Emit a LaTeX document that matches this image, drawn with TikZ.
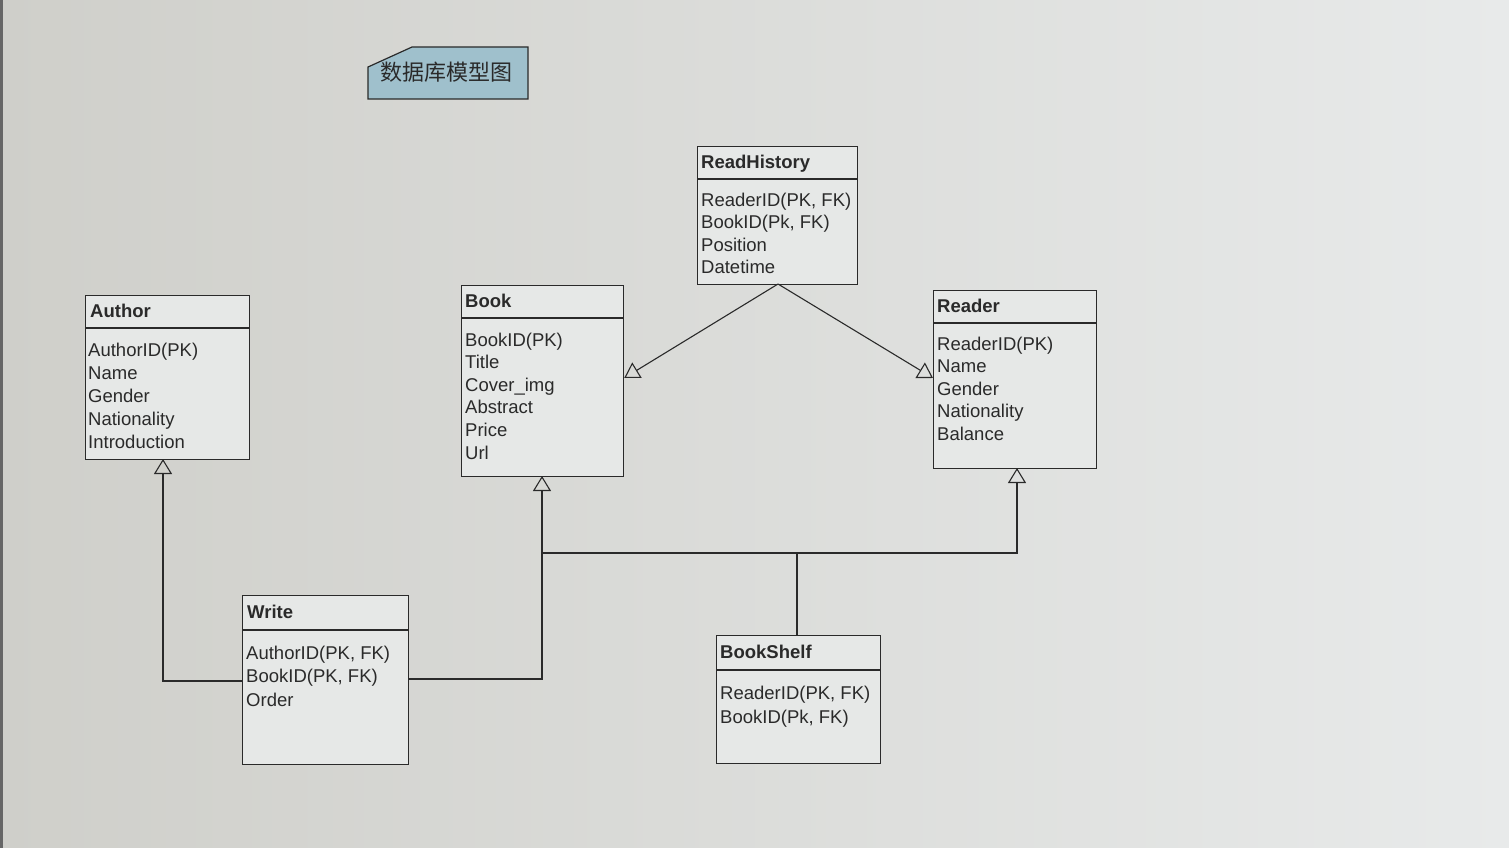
\documentclass[tikz,border=0pt]{standalone}
\usepackage{fontspec}
\setmainfont{Liberation Sans}
\newfontfamily\cjkfont{Noto Sans CJK SC}
\usetikzlibrary{arrows.meta}
\definecolor{bgA}{HTML}{CFCFCA}
\definecolor{bgB}{HTML}{E8EAEA}
\definecolor{boxfill}{HTML}{E6E8E7}
\definecolor{tagfill}{HTML}{9FC0CC}
\definecolor{ink}{HTML}{2A2A2A}
\tikzset{
  cls/.style={draw=ink, line width=1.2pt, fill=boxfill, anchor=north west, inner sep=0pt},
  hdr/.style={draw=ink, line width=1.2pt},
  ttl/.style={anchor=base west, inner sep=0pt, text=ink, font=\fontsize{18.5}{22}\selectfont\bfseries},
  attr/.style={anchor=base west, inner sep=0pt, text=ink, font=\fontsize{18.5}{22}\selectfont},
  link/.style={draw=ink, line width=1.1pt},
  inh/.style={link, -{Triangle[open, width=18pt, length=15pt, line width=1.1pt]}},
}
\begin{document}
\begin{tikzpicture}[x=1pt,y=-1pt]
\useasboundingbox (0,0) rectangle (1509,848);
% background
\shade[left color=bgA, right color=bgB, shading angle=90] (0,0) rectangle (1509,848);
\fill[black!60] (0,0) rectangle (3,848);

% title tag
\draw[draw=ink, line width=1.2pt, fill=tagfill] (368,67) -- (412,47) -- (528,47) -- (528,99) -- (368,99) -- cycle;
\node[inner sep=0pt, text=ink, font=\cjkfont\fontsize{22}{26}\selectfont] (tag) at (446,72) {数据库模型图};

% ReadHistory
\node[cls, minimum width=160pt, minimum height=138pt] (rh) at (697,146) {};
\draw[hdr] (697,179) -- (857,179);
\node[ttl] (rht) at (701,168) {ReadHistory};
\foreach \t [count=\i from 0] in {{ReaderID(PK, FK)},{BookID(Pk, FK)},Position,Datetime}
  \node[attr] (rh-\i) at (701,206+\i*22.5) {\t};

% Author
\node[cls, minimum width=164pt, minimum height=164pt] (author) at (85,295) {};
\draw[hdr] (85,328) -- (249,328);
\node[ttl] (autht) at (90,317) {Author};
\foreach \t [count=\i from 0] in {AuthorID(PK),Name,Gender,Nationality,Introduction}
  \node[attr] (auth-\i) at (88,356+\i*23) {\t};

% Book
\node[cls, minimum width=162pt, minimum height=191pt] (book) at (461,285) {};
\draw[hdr] (461,318) -- (623,318);
\node[ttl] (bookt) at (465,307) {Book};
\foreach \t [count=\i from 0] in {BookID(PK),Title,Cover\_img,Abstract,Price,Url}
  \node[attr] (book-\i) at (465,346+\i*22.6) {\t};

% Reader
\node[cls, minimum width=163pt, minimum height=178pt] (reader) at (933,290) {};
\draw[hdr] (933,323) -- (1096,323);
\node[ttl] (readert) at (937,312) {Reader};
\foreach \t [count=\i from 0] in {ReaderID(PK),Name,Gender,Nationality,Balance}
  \node[attr] (reader-\i) at (937,350+\i*22.6) {\t};

% Write
\node[cls, minimum width=166pt, minimum height=169pt] (write) at (242,595) {};
\draw[hdr] (242,630) -- (408,630);
\node[ttl] (writet) at (247,618) {Write};
\foreach \t [count=\i from 0] in {{AuthorID(PK, FK)},{BookID(PK, FK)},Order}
  \node[attr] (write-\i) at (246,659+\i*23.8) {\t};

% BookShelf
\node[cls, minimum width=164pt, minimum height=128pt] (shelf) at (716,635) {};
\draw[hdr] (716,670) -- (880,670);
\node[ttl] (shelft) at (720,658) {BookShelf};
\foreach \t [count=\i from 0] in {{ReaderID(PK, FK)},{BookID(Pk, FK)}}
  \node[attr] (shelf-\i) at (720,699+\i*24) {\t};

% connectors
\coordinate (rhb) at (778,284);
\draw[inh] (rhb) -- (book.east |- 0,378);
\draw[inh] (rhb) -- (reader.west |- 0,378);

\coordinate (wl) at (write.west |- 0,681);
\coordinate (wr) at (write.east |- 0,679);
\draw[inh] (wl) -| (163,459);
\draw[inh] (wr) -| (542,476);
\coordinate (j1) at (542,553);
\coordinate (j2) at (797,553);
\draw[link] (shelf.north -| j2) -- (j2) -- (j1);
\draw[inh] (j2) -| (1017,468);
\end{tikzpicture}
\end{document}
